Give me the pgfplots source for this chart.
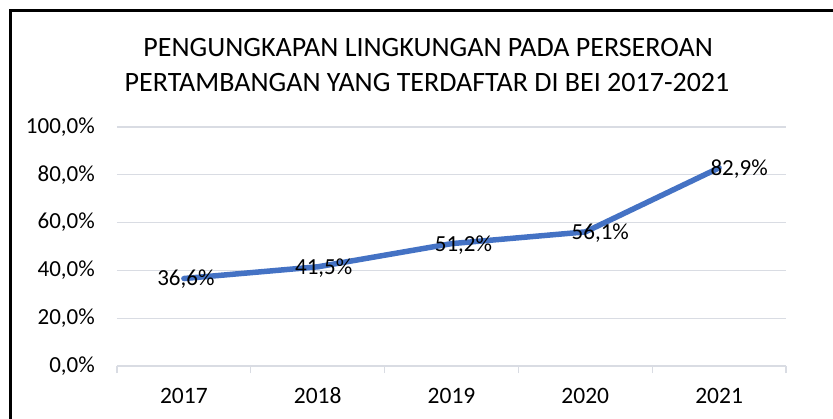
\documentclass[border=0pt]{standalone}
\usepackage{pgfplots}
\pgfplotsset{compat=1.18}
\usepackage{fontspec}
\setmainfont{Carlito}
\definecolor{xlblue}{HTML}{4472C4}
\definecolor{gridc}{HTML}{D9DCE3}
\pgfplotstableread{
x y lab dx
0 36.6 36,6\% 2
1 41.5 41,5\% 6
2 51.2 51,2\% 12
3 56.1 56,1\% 15
4 82.9 82,9\% 20
}\datatable
\begin{document}
\begin{tikzpicture}[x=1pt,y=1pt]
\useasboundingbox (0,0) rectangle (833,418);
\draw[line width=2.5pt] (10.5,-5) -- (10.5,407.5) -- (840,407.5);
\node[inner sep=0pt, font=\fontsize{28}{34}\selectfont] at (428,370) {PENGUNGKAPAN LINGKUNGAN PADA PERSEROAN};
\node[inner sep=0pt, font=\fontsize{28}{34}\selectfont] at (427,335) {PERTAMBANGAN YANG TERDAFTAR DI BEI 2017-2021};
\begin{axis}[
  at={(117pt,52pt)}, anchor=south west,
  scale only axis, width=669pt, height=239pt,
  xmin=-0.5, xmax=4.5, ymin=0, ymax=100,
  xtick={0,1,2,3,4},
  xticklabels={2017,2018,2019,2020,2021},
  minor xtick={-0.5,0.5,1.5,2.5,3.5,4.5},
  ytick={0,20,40,60,80,100},
  yticklabels={{0,0\%},{20,0\%},{40,0\%},{60,0\%},{80,0\%},{100,0\%}},
  major tick length=0pt,
  minor tick length=7pt,
  tick align=outside,
  minor tick style={gridc, line width=1.3pt},
  axis x line*=bottom,
  axis y line*=left,
  x axis line style={gridc, line width=1.3pt},
  y axis line style={draw=none},
  ymajorgrids,
  grid style={gridc, line width=1.3pt},
  xticklabel style={font=\fontsize{23.5}{28}\selectfont, anchor=center, inner sep=0pt, yshift=-30pt},
  yticklabel style={font=\fontsize{23}{28}\selectfont, anchor=east, inner sep=0pt, xshift=-22pt},
  clip=false,
]
\addplot[xlblue, line width=5.5pt, line join=round, line cap=round,
  visualization depends on={\thisrow{dx} \as \labdx},
  nodes near coords, point meta=explicit symbolic,
  nodes near coords style={anchor=center, inner sep=0pt, black, xshift=\labdx pt, yshift=-1pt, font=\fontsize{23}{28}\selectfont}]
  table[x=x, y=y, meta=lab] {\datatable};
\end{axis}
\end{tikzpicture}
\end{document}
